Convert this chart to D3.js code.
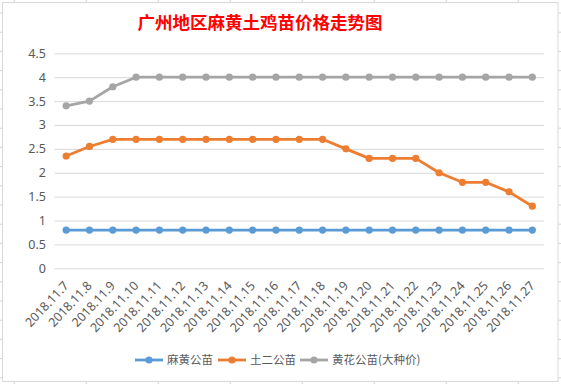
<!DOCTYPE html>
<html lang="zh">
<head>
<meta charset="UTF-8">
<title>广州地区麻黄土鸡苗价格走势图</title>
<script src="https://d3js.org/d3.v7.min.js"></script>
<style>
  body { margin: 0; background: #fff; }
  text { font-family: "Noto Sans CJK SC", "Noto Sans", sans-serif; }
</style>
</head>
<body>
<script>
var dates = ["2018.11.7", "2018.11.8", "2018.11.9", "2018.11.10", "2018.11.11", "2018.11.12", "2018.11.13",
    "2018.11.14", "2018.11.15", "2018.11.16", "2018.11.17", "2018.11.18", "2018.11.19", "2018.11.20",
    "2018.11.21", "2018.11.22", "2018.11.23", "2018.11.24", "2018.11.25", "2018.11.26", "2018.11.27"];
var mahuang = [0.8, 0.8, 0.8, 0.8, 0.8, 0.8, 0.8, 0.8, 0.8, 0.8, 0.8, 0.8, 0.8, 0.8, 0.8, 0.8, 0.8, 0.8, 0.8, 0.8, 0.8];
var tuer = [2.35, 2.55, 2.7, 2.7, 2.7, 2.7, 2.7, 2.7, 2.7, 2.7, 2.7, 2.7, 2.5, 2.3, 2.3, 2.3, 2.0, 1.8, 1.8, 1.6, 1.3];
var huanghua = [3.4, 3.5, 3.8, 4, 4, 4, 4, 4, 4, 4, 4, 4, 4, 4, 4, 4, 4, 4, 4, 4, 4];
var yTicks = [0, 0.5, 1, 1.5, 2, 2.5, 3, 3.5, 4, 4.5];
var seriesNames = ["麻黄公苗", "土二公苗", "黄花公苗(大种价)"];
var colors = ["#5B9BD5", "#ED7D31", "#A5A5A5"];

var width = 561, height = 384;
var svg = d3.select("body").append("svg")
    .attr("width", width)
    .attr("height", height);

// spreadsheet cell marks around the chart
var cellCols = d3.range(14.3, 560, 72);
var cellRows = d3.range(13, 384, 19.2);
svg.selectAll(".ct").data(cellCols).enter().append("line")
    .attr("x1", d => d).attr("x2", d => d).attr("y1", 0).attr("y2", 2)
    .attr("stroke", "#d4d4d4");
svg.selectAll(".cb").data(cellCols).enter().append("line")
    .attr("x1", d => d).attr("x2", d => d).attr("y1", 382).attr("y2", 384)
    .attr("stroke", "#d4d4d4");
svg.selectAll(".cl").data(cellRows).enter().append("line")
    .attr("x1", 0).attr("x2", 2.5).attr("y1", d => d).attr("y2", d => d)
    .attr("stroke", "#d4d4d4");
svg.selectAll(".cr").data(cellRows).enter().append("line")
    .attr("x1", 558).attr("x2", 561).attr("y1", d => d).attr("y2", d => d)
    .attr("stroke", "#d4d4d4");

// chart border
svg.append("rect")
    .attr("x", 2.5).attr("y", 2.5)
    .attr("width", 555.5).attr("height", 379)
    .attr("fill", "#fff")
    .attr("stroke", "#d9d9d9");

svg.append("text")
    .attr("x", 260).attr("y", 29)
    .attr("text-anchor", "middle")
    .attr("fill", "#FF0000")
    .attr("font-size", 17.5)
    .attr("font-weight", "bold")
    .text("广州地区麻黄土鸡苗价格走势图");

var x = d3.scaleBand()
    .domain(dates)
    .range([54.5, 544]);

var y = d3.scaleLinear()
    .domain([0, 4.5])
    .range([268.3, 53.3]);

// gridlines
svg.append("g")
    .attr("transform", "translate(54.5,0)")
    .call(d3.axisLeft(y).tickValues(yTicks).tickSize(-489.5).tickFormat(""))
    .call(g => g.select(".domain").remove())
    .call(g => g.selectAll("line").attr("stroke", "#d9d9d9"));

// y labels
svg.append("g")
    .attr("transform", "translate(46,0)")
    .call(d3.axisLeft(y).tickValues(yTicks).tickSize(0).tickPadding(0).tickFormat(d3.format("")))
    .call(g => g.select(".domain").remove())
    .call(g => g.selectAll("text").attr("fill", "#595959").attr("font-size", 12.5)
        .style("font-family", "'Noto Sans', sans-serif"));

// x labels
var xAxis = svg.append("g")
    .attr("transform", "translate(0,268.3)")
    .call(d3.axisBottom(x).tickSize(0).tickFormat(d => d))
    .call(g => g.select(".domain").remove());
xAxis.selectAll("text")
    .attr("fill", "#595959")
    .attr("font-size", 12.5)
    .style("font-family", "'Noto Sans', sans-serif")
    .attr("text-anchor", "end")
    .attr("dy", "0.35em")
    .attr("y", 0)
    .attr("transform", "translate(0,15) rotate(-47)");

var allSeries = [mahuang, tuer, huanghua];
var line = d3.line()
    .x((d, i) => x(dates[i]) + x.bandwidth() / 2)
    .y(d => y(d));

allSeries.forEach(function (vals, k) {
    svg.append("path")
        .datum(vals)
        .attr("fill", "none")
        .attr("stroke", colors[k])
        .attr("stroke-width", 2.8)
        .attr("stroke-linejoin", "round")
        .attr("d", line);
    svg.selectAll(".pt" + k)
        .data(vals)
        .enter()
        .append("circle")
        .attr("cx", (d, i) => x(dates[i]) + x.bandwidth() / 2)
        .attr("cy", d => y(d))
        .attr("r", 3.6)
        .attr("fill", colors[k]);
});

// legend
var legendX = [135, 218, 300];
var legend = svg.selectAll(".lg")
    .data(seriesNames)
    .enter()
    .append("g")
    .attr("transform", (d, i) => "translate(" + legendX[i] + ",360)");
legend.append("line")
    .attr("x1", 0).attr("x2", 28)
    .attr("stroke", (d, i) => colors[i])
    .attr("stroke-width", 2.8);
legend.append("circle")
    .attr("cx", 14).attr("r", 3.6)
    .attr("fill", (d, i) => colors[i]);
legend.append("text")
    .attr("x", 32).attr("dy", "0.36em")
    .attr("fill", "#595959")
    .attr("font-size", 11.5)
    .text(d => d);
</script>
</body>
</html>
